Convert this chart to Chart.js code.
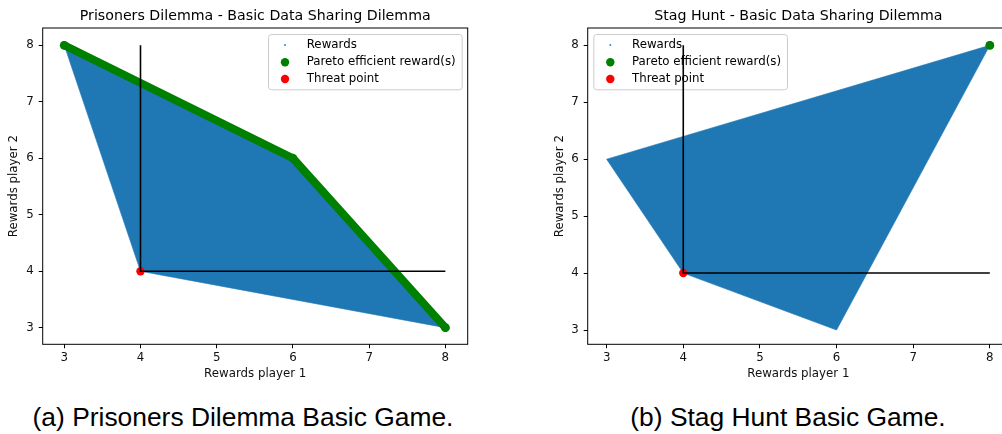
<!DOCTYPE html>
<html>
<head>
<meta charset="utf-8">
<script src="https://cdn.jsdelivr.net/npm/chart.js"></script>
<style>
  html, body { margin: 0; padding: 0; background: #fff; }
  body { width: 1002px; height: 434px; overflow: hidden; position: relative; }
  .box { position: absolute; top: 0; height: 390px; }
  .caption {
    position: absolute; top: 402px; width: 500px; text-align: center;
    font-family: "Liberation Sans", Arial, sans-serif; font-size: 26.4px; line-height: 30px; color: #000;
  }
</style>
</head>
<body>
<div class="box" style="left:0px;width:500px"><canvas id="chart_pd"></canvas></div>
<div class="box" style="left:545px;width:480px"><canvas id="chart_sh"></canvas></div>
<div class="caption" style="left:-7px">(a) Prisoners Dilemma Basic Game.</div>
<div class="caption" style="left:538px">(b) Stag Hunt Basic Game.</div>
<script>
// Prisoners dilemma game
const pd_reward_x = [3, 6, 8, 4, 3];
const pd_reward_y = [8, 6, 3, 4, 8];
const pd_pareto_x = [3, 6, 8];
const pd_pareto_y = [8, 6, 3];
const pd_threat_x = [4];
const pd_threat_y = [4];
const pd_guide_x = [4, 4, 8];
const pd_guide_y = [8, 4, 4];

// Stag hunt game
const sh_reward_x = [3, 8, 6, 4, 3];
const sh_reward_y = [6, 8, 3, 4, 6];
const sh_pareto_x = [8];
const sh_pareto_y = [8];
const sh_threat_x = [4];
const sh_threat_y = [4];
const sh_guide_x = [4, 4, 8];
const sh_guide_y = [8, 4, 4];

// axis ranges
const pd_x_range = [2.717, 8.293];
const pd_y_range = [2.706, 8.306];
const sh_x_range = [2.753, 8.25];
const sh_y_range = [2.749, 8.304];

const tick_values = [3, 4, 5, 6, 7, 8];
const legend_labels = ["Rewards", "Pareto efficient reward(s)", "Threat point"];

const BLUE = "#1f77b4";
const GREEN = "#008000";
const RED = "#ff0000";
const FONT = "'DejaVu Sans', sans-serif";

function toPoints(xs, ys) {
  return xs.map((x, i) => ({ x: x, y: ys[i] }));
}

const frameAndLegend = {
  id: "frameAndLegend",
  beforeDatasetsDraw(chart, args, opts) {
    const ctx = chart.ctx;
    const area = chart.chartArea;
    ctx.save();

    // title, centred on the axes
    ctx.fillStyle = "#000";
    ctx.font = "14.2px " + FONT;
    ctx.textAlign = "center";
    ctx.textBaseline = "middle";
    ctx.fillText(opts.title, (area.left + area.right) / 2, 16);

    ctx.font = "11.8px " + FONT;
    const textW = Math.max(...legend_labels.map((t) => ctx.measureText(t).width));
    const w = 38.7 + textW + 6;
    const h = 55.3;
    const left = opts.side === "right" ? area.right - 6 - w : area.left + 5.6;
    const top = area.top + 6;

    ctx.beginPath();
    ctx.roundRect(left + 0.5, top + 0.5, w, h, 3);
    ctx.fillStyle = "rgba(255,255,255,0.8)";
    ctx.fill();
    ctx.strokeStyle = "#cccccc";
    ctx.lineWidth = 1;
    ctx.stroke();

    const rows = [top + 11, top + 28.3, top + 45];
    const mx = left + 17;
    ctx.fillStyle = BLUE;
    ctx.fillRect(mx - 0.8, rows[0] - 0.8, 1.6, 1.6);
    ctx.fillStyle = GREEN;
    ctx.beginPath();
    ctx.arc(mx, rows[1], 4.2, 0, Math.PI * 2);
    ctx.fill();
    ctx.fillStyle = RED;
    ctx.beginPath();
    ctx.arc(mx, rows[2], 4.2, 0, Math.PI * 2);
    ctx.fill();

    ctx.fillStyle = "#000";
    ctx.textAlign = "left";
    legend_labels.forEach((t, i) => ctx.fillText(t, left + 38.7, rows[i]));
    ctx.restore();
  },
  afterDraw(chart) {
    const ctx = chart.ctx;
    const a = chart.chartArea;
    ctx.save();
    ctx.strokeStyle = "#000";
    ctx.lineWidth = 1;
    ctx.strokeRect(a.left, a.top, a.right - a.left, a.bottom - a.top);
    ctx.restore();
  },
};

function axis(range, title, isX, titlePad) {
  return {
    type: "linear",
    min: range[0],
    max: range[1],
    afterBuildTicks: (scale) => {
      scale.ticks = tick_values.map((v) => ({ value: v }));
    },
    afterFit: (scale) => {
      if (isX) scale.height = 45.7;
      else scale.width = 42.7;
    },
    ticks: {
      includeBounds: false,
      stepSize: 1,
      padding: isX ? 3 : 5,
      color: "#111",
      font: { family: FONT, size: 11.8 },
    },
    grid: {
      display: true,
      drawOnChartArea: false,
      drawTicks: true,
      tickLength: 4,
      color: "#000",
      lineWidth: 1,
    },
    border: { display: false },
    title: {
      display: true,
      text: title,
      color: "#111",
      font: { family: FONT, size: 11.8 },
      padding: isX ? { top: 0, bottom: 8.9 } : { top: titlePad, bottom: 0 },
    },
  };
}

function renderGame(canvasId, cfg) {
  const datasets = [
    {
      type: "line",
      data: toPoints(cfg.guide_x, cfg.guide_y),
      borderColor: "#000",
      borderWidth: 1.6,
      pointRadius: 0,
      fill: false,
      order: 1,
    },
    {
      type: "scatter",
      data: toPoints(cfg.threat_x, cfg.threat_y),
      backgroundColor: RED,
      pointRadius: 4.2,
      pointBorderWidth: 0,
      order: 2,
    },
    {
      type: "line",
      data: toPoints(cfg.pareto_x, cfg.pareto_y),
      borderColor: GREEN,
      backgroundColor: GREEN,
      borderWidth: 8,
      borderCapStyle: "round",
      borderJoinStyle: "round",
      pointRadius: 4.4,
      pointBorderWidth: 0,
      fill: false,
      order: 3,
    },
    {
      type: "line",
      data: toPoints(cfg.reward_x, cfg.reward_y),
      borderColor: BLUE,
      backgroundColor: BLUE,
      borderWidth: 0.6,
      pointRadius: 0,
      fill: "shape",
      order: 4,
    },
  ];

  new Chart(document.getElementById(canvasId), {
    type: "scatter",
    data: { datasets },
    options: {
      responsive: true,
      maintainAspectRatio: false,
      animation: false,
      events: [],
      layout: { padding: { left: 0, top: 28, bottom: 0, right: cfg.pad_right } },
      elements: { line: { tension: 0 } },
      scales: {
        x: axis(cfg.x_range, "Rewards player 1", true, 0),
        y: axis(cfg.y_range, "Rewards player 2", false, cfg.ytitle_pad),
      },
      plugins: {
        legend: { display: false },
        tooltip: { enabled: false },
        title: { display: false },
        frameAndLegend: { side: cfg.legend_side, title: cfg.title },
      },
    },
    plugins: [frameAndLegend],
  });
}

renderGame("chart_pd", {
  title: "Prisoners Dilemma - Basic Data Sharing Dilemma",
  reward_x: pd_reward_x, reward_y: pd_reward_y,
  pareto_x: pd_pareto_x, pareto_y: pd_pareto_y,
  threat_x: pd_threat_x, threat_y: pd_threat_y,
  guide_x: pd_guide_x, guide_y: pd_guide_y,
  x_range: pd_x_range, y_range: pd_y_range,
  pad_right: 32.3, ytitle_pad: 7.1, legend_side: "right",
});

renderGame("chart_sh", {
  title: "Stag Hunt - Basic Data Sharing Dilemma",
  reward_x: sh_reward_x, reward_y: sh_reward_y,
  pareto_x: sh_pareto_x, pareto_y: sh_pareto_y,
  threat_x: sh_threat_x, threat_y: sh_threat_y,
  guide_x: sh_guide_x, guide_y: sh_guide_y,
  x_range: sh_x_range, y_range: sh_y_range,
  pad_right: 16, ytitle_pad: 8.2, legend_side: "left",
});
</script>
</body>
</html>
